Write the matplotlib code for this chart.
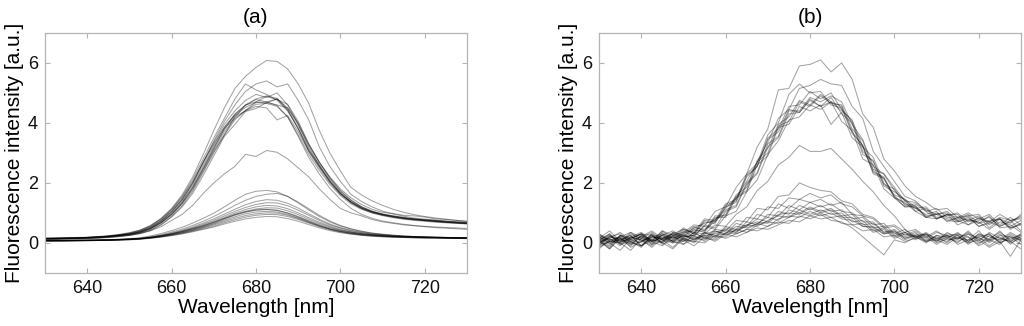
import numpy as np
import matplotlib
matplotlib.use("Agg")
import matplotlib.pyplot as plt

# wavelength grid of the spectra (nm), 2.5 nm step
wavelength = np.arange(630, 730.1, 2.5)

# ---- panel (a): smoothed spectra -------------------------------------------
a_upper = [
    [0.13, 0.14, 0.15, 0.16, 0.17, 0.19, 0.21, 0.25, 0.29, 0.37,
     0.50, 0.72, 1.02, 1.42, 1.95, 2.60, 3.25, 3.85, 4.30, 4.60,
     4.80, 4.90, 4.82, 4.45, 3.80, 3.05, 2.50, 2.00, 1.62, 1.35,
     1.15, 1.02, 0.93, 0.86, 0.80, 0.77, 0.74, 0.71, 0.69, 0.67, 0.65],
    [0.15, 0.15, 0.16, 0.16, 0.17, 0.18, 0.20, 0.23, 0.27, 0.34,
     0.46, 0.66, 0.93, 1.30, 1.78, 2.40, 3.05, 3.60, 4.22, 4.40,
     4.70, 4.66, 4.80, 4.42, 3.85, 3.12, 2.60, 2.10, 1.68, 1.38,
     1.18, 1.03, 0.94, 0.87, 0.82, 0.78, 0.75, 0.72, 0.69, 0.66, 0.64],
    [0.12, 0.13, 0.13, 0.14, 0.15, 0.17, 0.19, 0.22, 0.26, 0.32,
     0.42, 0.60, 0.86, 1.20, 1.65, 2.25, 2.90, 3.55, 3.95, 4.38,
     4.48, 4.68, 4.60, 4.50, 4.00, 3.30, 2.70, 2.18, 1.75, 1.43,
     1.20, 1.05, 0.95, 0.88, 0.83, 0.79, 0.76, 0.73, 0.70, 0.68, 0.66],
    [0.14, 0.15, 0.15, 0.16, 0.18, 0.20, 0.22, 0.26, 0.30, 0.38,
     0.52, 0.74, 1.05, 1.45, 2.00, 2.70, 3.35, 3.95, 4.40, 4.75,
     4.95, 4.85, 5.00, 4.60, 3.95, 3.20, 2.58, 2.05, 1.65, 1.36,
     1.16, 1.04, 0.95, 0.90, 0.85, 0.80, 0.77, 0.75, 0.72, 0.70, 0.68],
    [0.13, 0.14, 0.14, 0.15, 0.16, 0.18, 0.20, 0.24, 0.28, 0.35,
     0.48, 0.68, 0.95, 1.32, 1.82, 2.45, 3.10, 3.70, 4.15, 4.40,
     4.55, 4.50, 4.10, 4.25, 3.70, 3.05, 2.55, 2.05, 1.64, 1.34,
     1.14, 1.00, 0.91, 0.84, 0.79, 0.75, 0.72, 0.69, 0.67, 0.65, 0.63],
    [0.15, 0.16, 0.16, 0.17, 0.18, 0.19, 0.21, 0.24, 0.28, 0.35,
     0.47, 0.67, 0.96, 1.34, 1.85, 2.48, 3.15, 3.80, 4.18, 4.60,
     4.70, 4.88, 4.78, 4.62, 4.05, 3.30, 2.68, 2.15, 1.72, 1.42,
     1.21, 1.06, 0.97, 0.90, 0.84, 0.80, 0.77, 0.74, 0.71, 0.69, 0.67],
    [0.14, 0.14, 0.15, 0.16, 0.17, 0.19, 0.22, 0.26, 0.31, 0.40,
     0.55, 0.78, 1.10, 1.52, 2.05, 2.70, 3.30, 3.85, 4.25, 4.52,
     4.68, 4.70, 4.58, 4.20, 3.60, 2.95, 2.42, 1.95, 1.58, 1.30,
     1.12, 1.00, 0.92, 0.86, 0.81, 0.77, 0.74, 0.71, 0.68, 0.66, 0.64],
    [0.15, 0.16, 0.17, 0.17, 0.18, 0.20, 0.22, 0.25, 0.29, 0.36,
     0.48, 0.69, 0.98, 1.37, 1.88, 2.52, 3.18, 3.78, 4.28, 4.58,
     4.78, 4.70, 4.80, 4.50, 3.95, 3.25, 2.68, 2.20, 1.80, 1.50,
     1.28, 1.12, 1.02, 0.98, 0.92, 0.90, 0.86, 0.80, 0.78, 0.75, 0.72],
    [0.12, 0.12, 0.13, 0.14, 0.15, 0.16, 0.18, 0.21, 0.25, 0.31,
     0.42, 0.61, 0.88, 1.24, 1.72, 2.35, 3.00, 3.60, 4.10, 4.42,
     4.62, 4.65, 4.55, 4.20, 3.55, 2.85, 2.30, 1.82, 1.45, 1.15,
     0.95, 0.82, 0.73, 0.67, 0.62, 0.58, 0.55, 0.53, 0.51, 0.50, 0.48],
]
a_outliers = [
    [0.16, 0.16, 0.17, 0.18, 0.19, 0.21, 0.24, 0.28, 0.34, 0.43,
     0.58, 0.82, 1.15, 1.60, 2.20, 2.95, 3.75, 4.50, 5.15, 5.55,
     5.85, 6.08, 6.05, 5.80, 5.30, 4.65, 3.75, 3.00, 2.40, 1.85,
     1.60, 1.40, 1.25, 1.12, 1.02, 0.94, 0.88, 0.83, 0.79, 0.75, 0.72],
    [0.15, 0.15, 0.16, 0.17, 0.18, 0.20, 0.22, 0.26, 0.31, 0.39,
     0.52, 0.74, 1.05, 1.46, 2.00, 2.68, 3.40, 4.05, 4.60, 5.05,
     5.30, 5.40, 5.20, 5.30, 4.75, 4.10, 3.20, 2.55, 2.05, 1.62,
     1.38, 1.20, 1.06, 0.96, 0.89, 0.83, 0.79, 0.76, 0.73, 0.70, 0.68],
    [0.14, 0.15, 0.15, 0.16, 0.18, 0.20, 0.23, 0.27, 0.33, 0.42,
     0.57, 0.80, 1.12, 1.55, 2.12, 2.80, 3.50, 4.15, 4.80, 5.30,
     5.10, 4.95, 4.75, 4.40, 3.80, 3.10, 2.55, 2.05, 1.65, 1.36,
     1.17, 1.04, 0.95, 0.88, 0.83, 0.79, 0.76, 0.73, 0.70, 0.68, 0.66],
]
a_mid = [0.12, 0.12, 0.13, 0.13, 0.14, 0.16, 0.18, 0.21, 0.25, 0.31,
         0.40, 0.54, 0.75, 0.95, 1.25, 1.65, 2.00, 2.30, 2.55, 2.95,
         2.88, 3.08, 3.02, 2.80, 2.50, 2.20, 1.80, 1.45, 1.15, 1.00,
         0.90, 0.78, 0.70, 0.65, 0.60, 0.57, 0.54, 0.51, 0.49, 0.47, 0.45]
a_lower = [
    [0.08, 0.08, 0.08, 0.09, 0.09, 0.10, 0.11, 0.12, 0.14, 0.17,
     0.23, 0.31, 0.41, 0.52, 0.66, 0.82, 0.99, 1.20, 1.42, 1.62,
     1.72, 1.75, 1.70, 1.55, 1.33, 1.10, 0.88, 0.70, 0.56, 0.46,
     0.38, 0.32, 0.28, 0.25, 0.23, 0.21, 0.20, 0.19, 0.18, 0.17, 0.17],
    [0.07, 0.08, 0.08, 0.08, 0.09, 0.09, 0.10, 0.11, 0.13, 0.15,
     0.20, 0.27, 0.36, 0.46, 0.58, 0.72, 0.88, 1.06, 1.25, 1.42,
     1.55, 1.62, 1.65, 1.55, 1.36, 1.14, 0.92, 0.73, 0.58, 0.47,
     0.39, 0.33, 0.29, 0.26, 0.23, 0.21, 0.20, 0.19, 0.18, 0.17, 0.17],
    [0.08, 0.08, 0.08, 0.08, 0.09, 0.09, 0.10, 0.11, 0.13, 0.15,
     0.19, 0.25, 0.33, 0.42, 0.53, 0.66, 0.80, 0.96, 1.12, 1.27,
     1.38, 1.44, 1.42, 1.32, 1.16, 0.97, 0.79, 0.63, 0.51, 0.42,
     0.35, 0.30, 0.27, 0.24, 0.22, 0.21, 0.20, 0.19, 0.18, 0.17, 0.17],
    [0.06, 0.07, 0.07, 0.07, 0.08, 0.08, 0.09, 0.10, 0.12, 0.14,
     0.18, 0.24, 0.31, 0.40, 0.50, 0.62, 0.75, 0.90, 1.05, 1.18,
     1.28, 1.34, 1.33, 1.24, 1.09, 0.92, 0.75, 0.60, 0.49, 0.40,
     0.34, 0.29, 0.26, 0.23, 0.21, 0.20, 0.19, 0.18, 0.17, 0.16, 0.16],
    [0.07, 0.07, 0.07, 0.08, 0.08, 0.09, 0.09, 0.10, 0.12, 0.14,
     0.18, 0.23, 0.30, 0.38, 0.48, 0.59, 0.71, 0.85, 0.99, 1.11,
     1.20, 1.25, 1.23, 1.14, 1.00, 0.84, 0.69, 0.56, 0.45, 0.37,
     0.31, 0.27, 0.24, 0.22, 0.20, 0.19, 0.18, 0.17, 0.16, 0.16, 0.15],
    [0.07, 0.07, 0.08, 0.08, 0.08, 0.09, 0.10, 0.11, 0.12, 0.14,
     0.18, 0.23, 0.29, 0.37, 0.46, 0.56, 0.68, 0.81, 0.94, 1.05,
     1.13, 1.17, 1.16, 1.07, 0.94, 0.79, 0.65, 0.53, 0.43, 0.36,
     0.31, 0.27, 0.24, 0.22, 0.21, 0.20, 0.19, 0.18, 0.18, 0.17, 0.17],
    [0.07, 0.07, 0.07, 0.08, 0.08, 0.08, 0.09, 0.10, 0.11, 0.13,
     0.17, 0.22, 0.28, 0.35, 0.44, 0.54, 0.65, 0.79, 0.92, 1.02,
     1.09, 1.11, 1.09, 0.99, 0.86, 0.72, 0.58, 0.47, 0.39, 0.33,
     0.28, 0.25, 0.23, 0.21, 0.20, 0.19, 0.18, 0.17, 0.17, 0.16, 0.16],
    [0.06, 0.06, 0.07, 0.07, 0.07, 0.08, 0.09, 0.10, 0.11, 0.13,
     0.16, 0.21, 0.27, 0.34, 0.42, 0.52, 0.63, 0.75, 0.87, 0.97,
     1.03, 1.05, 1.03, 0.95, 0.83, 0.70, 0.57, 0.46, 0.38, 0.32,
     0.27, 0.24, 0.22, 0.20, 0.19, 0.18, 0.17, 0.17, 0.16, 0.16, 0.15],
    [0.08, 0.08, 0.08, 0.08, 0.09, 0.09, 0.10, 0.11, 0.12, 0.14,
     0.17, 0.21, 0.27, 0.33, 0.41, 0.50, 0.60, 0.71, 0.82, 0.91,
     0.97, 1.00, 0.99, 0.92, 0.81, 0.68, 0.56, 0.46, 0.38, 0.32,
     0.28, 0.25, 0.23, 0.21, 0.20, 0.19, 0.18, 0.18, 0.17, 0.17, 0.16],
    [0.07, 0.07, 0.07, 0.07, 0.08, 0.08, 0.09, 0.10, 0.11, 0.13,
     0.16, 0.20, 0.25, 0.31, 0.39, 0.47, 0.56, 0.67, 0.77, 0.86,
     0.92, 0.95, 0.94, 0.88, 0.78, 0.66, 0.54, 0.44, 0.36, 0.30,
     0.26, 0.23, 0.21, 0.19, 0.18, 0.17, 0.16, 0.16, 0.15, 0.15, 0.14],
    [0.06, 0.06, 0.06, 0.07, 0.07, 0.08, 0.08, 0.09, 0.10, 0.12,
     0.15, 0.19, 0.24, 0.30, 0.37, 0.45, 0.53, 0.63, 0.72, 0.80,
     0.85, 0.88, 0.87, 0.81, 0.72, 0.61, 0.50, 0.41, 0.34, 0.29,
     0.25, 0.22, 0.20, 0.19, 0.18, 0.17, 0.16, 0.16, 0.15, 0.15, 0.15],
    [0.08, 0.09, 0.08, 0.09, 0.09, 0.10, 0.10, 0.12, 0.13, 0.15,
     0.19, 0.24, 0.30, 0.38, 0.47, 0.57, 0.69, 0.82, 0.95, 1.04,
     1.10, 1.12, 1.08, 1.00, 0.88, 0.74, 0.61, 0.50, 0.41, 0.35,
     0.30, 0.27, 0.24, 0.22, 0.21, 0.20, 0.19, 0.18, 0.18, 0.17, 0.17],
]

# ---- panel (b): raw (noisy) spectra ----------------------------------------
b_upper = [
    [0.10, -0.15, 0.25, 0.05, -0.10, 0.30, 0.10, 0.35, 0.15, 0.45,
     0.35, 0.80, 0.95, 1.60, 1.85, 2.75, 3.15, 3.95, 4.20, 4.75,
     4.60, 4.95, 4.70, 4.55, 3.70, 3.25, 2.30, 2.15, 1.55, 1.30,
     1.15, 0.95, 1.05, 0.70, 0.85, 0.90, 0.55, 0.70, 0.80, 0.45, 0.65],
    [0.25, 0.05, 0.00, 0.30, 0.15, -0.05, 0.35, 0.10, 0.40, 0.20,
     0.60, 0.50, 1.05, 1.20, 1.95, 2.30, 3.20, 3.50, 4.30, 4.35,
     4.75, 4.55, 4.85, 4.30, 4.00, 2.95, 2.75, 1.90, 1.70, 1.45,
     1.05, 1.15, 0.80, 0.95, 0.95, 0.60, 0.75, 0.85, 0.55, 0.70, 0.90],
    [-0.10, 0.20, 0.15, -0.05, 0.25, 0.10, 0.05, 0.30, 0.20, 0.25,
     0.55, 0.45, 0.90, 1.05, 1.70, 2.10, 2.95, 3.40, 4.10, 4.20,
     4.60, 4.45, 4.70, 4.40, 4.10, 3.20, 2.85, 2.00, 1.60, 1.45,
     1.20, 0.90, 0.95, 1.00, 0.70, 0.80, 0.65, 0.90, 0.50, 0.55, 0.75],
    [0.05, 0.30, -0.05, 0.20, 0.35, 0.05, 0.40, 0.15, 0.45, 0.30,
     0.70, 0.65, 1.20, 1.35, 2.20, 2.55, 3.50, 3.80, 4.55, 4.60,
     5.05, 4.80, 5.00, 4.45, 4.05, 3.05, 2.70, 1.95, 1.80, 1.25,
     1.30, 1.05, 0.80, 0.95, 0.85, 0.75, 0.90, 0.50, 0.80, 0.65, 0.95],
    [0.20, 0.00, 0.10, 0.25, -0.10, 0.20, 0.15, 0.05, 0.35, 0.40,
     0.40, 0.85, 0.85, 1.50, 1.70, 2.60, 2.90, 3.85, 3.95, 4.55,
     4.40, 4.60, 3.95, 4.35, 3.50, 3.20, 2.35, 2.20, 1.55, 1.20,
     1.25, 0.85, 0.80, 0.95, 0.60, 0.75, 0.70, 0.45, 0.70, 0.60, 0.35],
    [0.15, 0.40, 0.05, 0.10, 0.30, 0.25, 0.00, 0.35, 0.25, 0.50,
     0.45, 0.70, 1.10, 1.25, 2.00, 2.35, 3.30, 3.55, 4.40, 4.40,
     4.85, 4.70, 4.90, 4.70, 3.95, 3.45, 2.55, 2.30, 1.75, 1.40,
     1.15, 1.20, 0.85, 0.90, 1.00, 0.70, 0.80, 0.95, 0.60, 0.85, 0.60],
    [0.00, 0.20, 0.30, 0.00, 0.15, 0.35, 0.10, 0.20, 0.50, 0.30,
     0.75, 0.70, 1.25, 1.40, 2.25, 2.55, 3.45, 3.70, 4.45, 4.35,
     4.80, 4.55, 4.70, 4.05, 3.75, 2.80, 2.60, 1.80, 1.50, 1.35,
     1.05, 0.85, 1.00, 0.80, 0.75, 0.60, 0.85, 0.70, 0.55, 0.75, 0.40],
    [0.30, 0.10, 0.20, 0.35, 0.05, 0.20, 0.30, 0.15, 0.30, 0.55,
     0.40, 0.90, 0.90, 1.55, 1.75, 2.70, 3.00, 3.90, 4.05, 4.70,
     4.55, 4.90, 4.65, 4.60, 3.80, 3.40, 2.45, 2.30, 1.85, 1.40,
     1.35, 1.10, 0.95, 1.05, 0.75, 0.90, 0.95, 0.60, 0.85, 0.75, 0.85],
]
b_outliers = [
    [0.10, 0.25, 0.05, 0.35, 0.20, 0.05, 0.40, 0.25, 0.35, 0.60,
     0.55, 1.05, 1.20, 1.85, 2.30, 3.20, 3.80, 5.10, 5.15, 5.90,
     5.95, 6.10, 5.70, 6.00, 5.45, 4.30, 3.85, 2.80, 2.40, 1.90,
     1.55, 1.35, 1.10, 1.15, 0.85, 1.00, 0.80, 0.70, 0.95, 0.75, 0.80],
    [0.20, -0.05, 0.25, 0.15, 0.30, 0.10, 0.25, 0.40, 0.20, 0.50,
     0.65, 0.75, 1.15, 1.50, 2.05, 2.70, 3.35, 4.15, 4.45, 5.15,
     5.25, 5.45, 5.30, 5.25, 4.55, 4.15, 3.05, 2.55, 2.05, 1.55,
     1.40, 1.05, 1.15, 0.85, 0.80, 0.95, 0.65, 0.75, 0.80, 0.50, 0.65],
    [0.05, 0.15, 0.35, 0.10, 0.20, 0.40, 0.15, 0.30, 0.45, 0.35,
     0.80, 0.75, 1.30, 1.45, 2.30, 2.65, 3.60, 4.00, 4.95, 5.30,
     5.00, 5.05, 4.60, 4.50, 3.65, 3.25, 2.40, 2.15, 1.50, 1.20,
     1.20, 0.85, 0.95, 0.75, 0.70, 0.85, 0.55, 0.65, 0.80, 0.50, 0.60],
]
b_mid = [0.00, 0.20, 0.10, -0.10, 0.25, 0.05, 0.15, 0.30, 0.10, 0.35,
         0.30, 0.60, 0.55, 0.95, 1.20, 1.75, 2.05, 2.60, 2.85, 3.25,
         3.05, 3.05, 3.15, 2.80, 2.45, 2.05, 1.70, 1.25, 0.90, 0.45,
         0.20, 0.30, 0.05, 0.25, 0.15, 0.35, 0.10, 0.30, 0.00, 0.20, 0.10]
b_lower = [
    [0.10, -0.20, 0.20, 0.05, -0.15, 0.25, 0.00, 0.20, 0.05, 0.35,
     0.15, 0.45, 0.40, 0.75, 0.70, 1.15, 1.10, 1.55, 1.60, 2.00,
     1.85, 1.75, 1.70, 1.40, 1.30, 0.95, 0.85, 0.55, 0.60, 0.35,
     0.45, 0.20, 0.40, 0.15, 0.35, 0.05, 0.30, 0.20, 0.10, 0.35, 0.15],
    [-0.05, 0.25, 0.00, 0.20, 0.10, -0.10, 0.30, 0.05, 0.25, 0.10,
     0.35, 0.20, 0.55, 0.45, 0.85, 0.80, 1.20, 1.15, 1.50, 1.45,
     1.65, 1.50, 1.60, 1.30, 1.20, 0.90, 0.80, 0.50, 0.55, 0.25,
     0.40, 0.15, 0.35, 0.25, 0.10, 0.40, 0.05, 0.35, 0.15, 0.05, 0.30],
    [0.20, 0.00, -0.25, 0.15, 0.30, 0.05, -0.10, 0.25, 0.15, 0.00,
     0.30, 0.40, 0.30, 0.65, 0.55, 0.95, 0.85, 1.30, 1.15, 1.45,
     1.35, 1.45, 1.25, 1.35, 0.95, 0.90, 0.60, 0.65, 0.30, 0.45,
     0.15, 0.35, 0.10, 0.30, 0.25, 0.00, 0.30, 0.10, 0.40, 0.05, 0.20],
    [-0.20, 0.10, 0.15, -0.05, 0.05, 0.20, 0.10, -0.15, 0.20, 0.25,
     0.05, 0.35, 0.45, 0.35, 0.70, 0.60, 0.95, 0.90, 1.25, 1.10,
     1.35, 1.20, 1.30, 1.05, 1.00, 0.70, 0.70, 0.35, 0.45, 0.20,
     0.35, 0.05, 0.25, 0.20, 0.00, 0.30, 0.15, 0.05, 0.30, -0.05, 0.25],
    [0.30, 0.05, 0.10, 0.25, -0.10, 0.15, 0.25, 0.05, -0.05, 0.30,
     0.20, 0.15, 0.50, 0.40, 0.55, 0.80, 0.70, 1.05, 0.95, 1.25,
     1.10, 1.25, 1.05, 1.10, 0.80, 0.85, 0.50, 0.55, 0.25, 0.35,
     0.20, 0.25, 0.05, 0.35, 0.15, 0.10, 0.40, 0.00, 0.25, 0.20, -0.05],
    [0.00, 0.15, -0.10, 0.20, 0.10, -0.15, 0.15, 0.20, 0.10, 0.05,
     0.35, 0.25, 0.30, 0.55, 0.50, 0.65, 0.85, 0.75, 1.10, 1.00,
     1.20, 1.05, 1.15, 0.90, 0.95, 0.60, 0.65, 0.35, 0.40, 0.15,
     0.30, 0.10, 0.20, 0.00, 0.30, 0.20, -0.05, 0.25, 0.05, 0.30, 0.10],
    [0.15, -0.10, 0.25, 0.10, 0.00, 0.30, -0.05, 0.10, 0.25, 0.15,
     0.10, 0.40, 0.25, 0.45, 0.60, 0.55, 0.75, 0.90, 0.85, 1.10,
     0.95, 1.10, 0.95, 1.00, 0.70, 0.75, 0.40, 0.50, 0.20, 0.35,
     0.10, 0.30, 0.15, 0.05, 0.25, -0.05, 0.20, 0.30, 0.00, 0.15, 0.25],
    [-0.15, 0.05, 0.00, -0.25, 0.15, 0.05, 0.20, 0.00, 0.05, 0.20,
     0.15, 0.10, 0.35, 0.30, 0.45, 0.65, 0.55, 0.80, 0.90, 0.85,
     1.05, 0.90, 1.00, 0.80, 0.75, 0.55, 0.50, 0.30, 0.35, 0.10,
     0.25, 0.05, 0.15, 0.25, -0.05, 0.10, 0.20, -0.10, 0.15, 0.05, -0.20],
    [0.25, 0.10, 0.05, 0.15, 0.30, -0.05, 0.05, 0.25, -0.05, 0.15,
     0.25, 0.20, 0.20, 0.45, 0.35, 0.60, 0.70, 0.65, 0.85, 1.00,
     0.90, 1.00, 0.85, 0.90, 0.60, 0.65, 0.35, 0.45, 0.15, 0.30,
     0.20, 0.00, 0.25, 0.10, 0.15, 0.30, 0.00, 0.15, 0.35, 0.10, 0.30],
    [0.05, -0.20, 0.15, 0.00, -0.10, 0.10, 0.00, -0.20, 0.15, 0.05,
     0.00, 0.25, 0.15, 0.30, 0.45, 0.40, 0.55, 0.70, 0.65, 0.90,
     0.80, 0.95, 0.75, 0.70, 0.50, 0.20, -0.10, -0.40, 0.10, 0.00,
     0.20, 0.05, 0.10, -0.05, 0.20, 0.00, 0.10, -0.15, 0.05, -0.45, 0.10],
    [0.10, 0.30, -0.05, 0.05, 0.20, 0.00, 0.25, 0.05, 0.10, -0.10,
     0.20, 0.05, 0.30, 0.20, 0.35, 0.50, 0.45, 0.60, 0.75, 0.70,
     0.90, 0.80, 0.85, 0.65, 0.60, 0.40, 0.45, 0.20, 0.25, 0.05,
     0.15, 0.20, -0.05, 0.15, 0.05, 0.20, -0.10, 0.10, 0.20, 0.00, 0.15],
    [-0.10, 0.05, 0.20, -0.15, 0.05, 0.25, 0.10, 0.00, 0.30, 0.10,
     0.25, 0.30, 0.40, 0.35, 0.60, 0.70, 0.65, 0.95, 1.00, 0.95,
     1.15, 1.00, 1.10, 0.85, 0.85, 0.55, 0.55, 0.30, 0.40, 0.15,
     0.25, 0.30, 0.00, 0.20, 0.30, 0.05, 0.25, 0.10, -0.05, 0.25, 0.05],
]

panels = [
    ("(a)", a_upper + a_outliers + [a_mid] + a_lower),
    ("(b)", b_upper + b_outliers + [b_mid] + b_lower),
]

FRAME = "#b4b4b4"
plt.rcParams["font.family"] = ["Liberation Sans", "DejaVu Sans"]

fig = plt.figure(figsize=(10.24, 3.26), dpi=100)
axes = [fig.add_axes([0.044, 0.163, 0.412, 0.736]),
        fig.add_axes([0.585, 0.163, 0.412, 0.736])]

for ax, (title, spectra) in zip(axes, panels):
    for y in spectra:
        ax.plot(wavelength, y, color="k", alpha=0.36, lw=0.75)
    ax.set_xlim(630, 730)
    ax.set_ylim(-1, 7)
    ax.set_xticks([640, 660, 680, 700, 720])
    ax.set_yticks([0, 2, 4, 6])
    ax.tick_params(direction="in", length=3.5, width=0.8, color=FRAME,
                   labelsize=13, pad=5, top=True, right=True,
                   labelcolor="#111111")
    for s in ax.spines.values():
        s.set_color(FRAME)
        s.set_linewidth(0.9)
    ax.set_title(title, fontsize=15, pad=7)
    ax.set_xlabel("Wavelength [nm]", fontsize=15, labelpad=1)
    ax.set_ylabel("Fluorescence intensity [a.u.]", fontsize=15, labelpad=3)

fig.savefig("out.png", dpi=100)
